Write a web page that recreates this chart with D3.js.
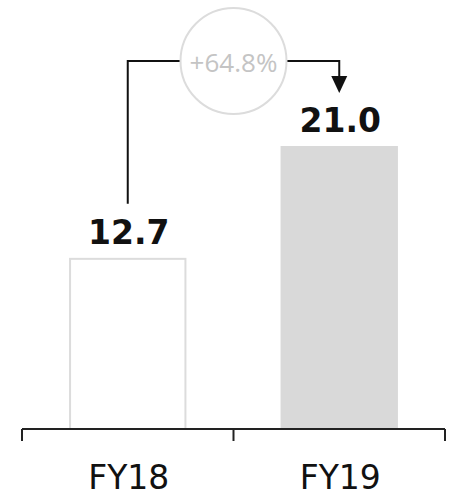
<!DOCTYPE html>
<html>
<head>
<meta charset="utf-8">
<script src="https://cdn.jsdelivr.net/npm/d3@7"></script>
<style>
  html, body { margin: 0; padding: 0; background: #fff; }
  svg { display: block; }
</style>
</head>
<body>
<svg id="chart" width="460" height="494"></svg>
<script>
const categories = ["FY18", "FY19"];
const values = [12.7, 21.0];
const valueLabels = ["12.7", "21.0"];
const changeLabel = "+64.8%";

const svg = d3.select("#chart");
const baseY = 429;

const x = d3.scaleBand().domain(categories).range([22, 445]).padding(0);
const y = d3.scaleLinear().domain([0, 21]).range([baseY, 146]);
const barW = x.bandwidth() * 0.555;
const cx = c => x(c) + x.bandwidth() / 2;

// bars
svg.selectAll("rect.bar").data(categories).join("rect")
  .attr("class", "bar")
  .attr("x", (c) => cx(c) - barW / 2 + (c === categories[0] ? 1 : 0))
  .attr("width", (c) => c === categories[0] ? barW - 2 : barW)
  .attr("y", (c, i) => y(values[i]) + (i === 0 ? 1 : 0))
  .attr("height", (c, i) => baseY - y(values[i]) - (i === 0 ? 1 : 0))
  .attr("fill", (c, i) => i === 0 ? "#fff" : "#d9d9d9")
  .attr("stroke", (c, i) => i === 0 ? "#dcdcdc" : "none")
  .attr("stroke-width", 2);

// axis line and ticks at band boundaries
const axisG = svg.append("g").attr("stroke", "#222").attr("stroke-width", 2);
const [r0, r1] = x.range();
axisG.append("line").attr("x1", r0).attr("x2", r1).attr("y1", baseY).attr("y2", baseY);
const tickXs = [r0].concat(categories.map(c => x(c) + x.bandwidth()));
axisG.selectAll("line.tick").data(tickXs).join("line")
  .attr("class", "tick")
  .attr("x1", d => d).attr("x2", d => d)
  .attr("y1", baseY).attr("y2", baseY + 12);

// category labels
svg.selectAll("text.cat").data(categories).join("text")
  .attr("class", "cat")
  .attr("x", c => cx(c) + 1)
  .attr("y", 489)
  .attr("text-anchor", "middle")
  .attr("font-family", "DejaVu Sans")
  .attr("font-size", 33)
  .attr("fill", "#111")
  .text(c => c);

// value labels
svg.selectAll("text.val").data(categories).join("text")
  .attr("class", "val")
  .attr("x", c => cx(c) + 1)
  .attr("y", (c, i) => y(values[i]) - 14)
  .attr("text-anchor", "middle")
  .attr("font-family", "DejaVu Sans")
  .attr("font-weight", "bold")
  .attr("font-size", 33)
  .attr("fill", "#111")
  .text((c, i) => valueLabels[i]);

// growth bracket
const topY = 61;
const midX = x(categories[1]);
const r = 53;
const lx = cx(categories[0]);
const rx = cx(categories[1]);
const g = svg.append("g").attr("stroke", "#111").attr("stroke-width", 2).attr("fill", "none");
g.append("path").attr("d", `M${lx},${y(values[0]) - 54} V${topY} H${midX - r}`);
g.append("path").attr("d", `M${midX + r},${topY} H${rx} V${y(values[1]) - 70}`);
svg.append("path")
  .attr("d", `M${rx - 8},${y(values[1]) - 70} L${rx + 8},${y(values[1]) - 70} L${rx},${y(values[1]) - 53} Z`)
  .attr("fill", "#111");

svg.append("circle")
  .attr("cx", midX).attr("cy", topY).attr("r", r)
  .attr("fill", "#fff").attr("stroke", "#dcdcdc").attr("stroke-width", 2);
svg.append("text")
  .attr("x", midX).attr("y", 72)
  .attr("text-anchor", "middle")
  .attr("font-family", "Open Sans")
  .attr("font-size", 26)
  .attr("fill", "#c4c4c4")
  .text(changeLabel);
</script>
</body>
</html>
